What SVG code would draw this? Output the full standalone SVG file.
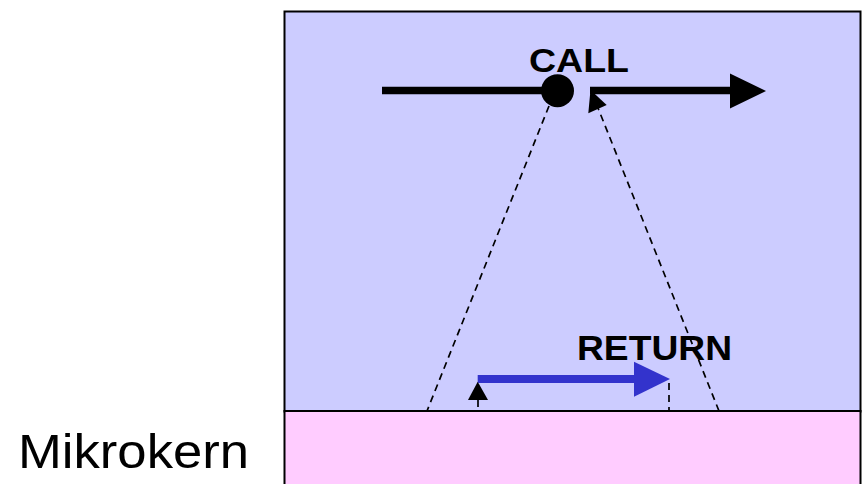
<svg xmlns="http://www.w3.org/2000/svg" width="866" height="484" viewBox="0 0 866 484">
  <style>
    .lbl { font-family: "Liberation Sans", Arial, sans-serif; font-weight: bold; fill: #000; }
    .dash { stroke: #000; stroke-width: 1.7; stroke-dasharray: 7 5; fill: none; }
  </style>
  <rect width="866" height="484" fill="#fff"/>
  <g id="process">
    <rect x="284.5" y="11.5" width="576" height="400" fill="#ccccff" stroke="#000" stroke-width="2"/>
  </g>
  <g id="mikrokern">
    <rect x="284.5" y="411" width="576" height="80" fill="#ffccff" stroke="#000" stroke-width="2"/>
    <text x="18" y="468" font-family="'Liberation Sans', Arial, sans-serif" font-size="48" textLength="231" lengthAdjust="spacingAndGlyphs">Mikrokern</text>
  </g>
  <g id="call">
    <line x1="382" y1="90.5" x2="545" y2="90.5" stroke="#000" stroke-width="7.5"/>
    <circle cx="557.5" cy="90.7" r="16.5" fill="#000"/>
    <line x1="590" y1="90.5" x2="732" y2="90.5" stroke="#000" stroke-width="7.5"/>
    <polygon points="766,91 730,73.5 730,108.5" fill="#000"/>
    <text class="lbl" x="529" y="72" font-size="34" textLength="100" lengthAdjust="spacingAndGlyphs">CALL</text>
  </g>
  <g id="return">
    <line x1="477.7" y1="379" x2="636" y2="379" stroke="#3333cc" stroke-width="8"/>
    <polygon points="670,379 634,361.7 634,396.7" fill="#3333cc"/>
    <text class="lbl" x="577" y="360" font-size="35" textLength="155" lengthAdjust="spacingAndGlyphs">RETURN</text>
  </g>
  <g id="connectors">
    <line class="dash" x1="549" y1="106" x2="427" y2="411"/>
    <line class="dash" x1="719" y1="411" x2="598" y2="108"/>
    <polygon points="590.5,90 588.3,113.3 606.7,105" fill="#000"/>
    <line class="dash" x1="478" y1="400" x2="478" y2="411"/>
    <polygon points="477.7,381.7 468,400 488,400" fill="#000"/>
    <line class="dash" x1="669" y1="383" x2="669" y2="411"/>
  </g>
</svg>
